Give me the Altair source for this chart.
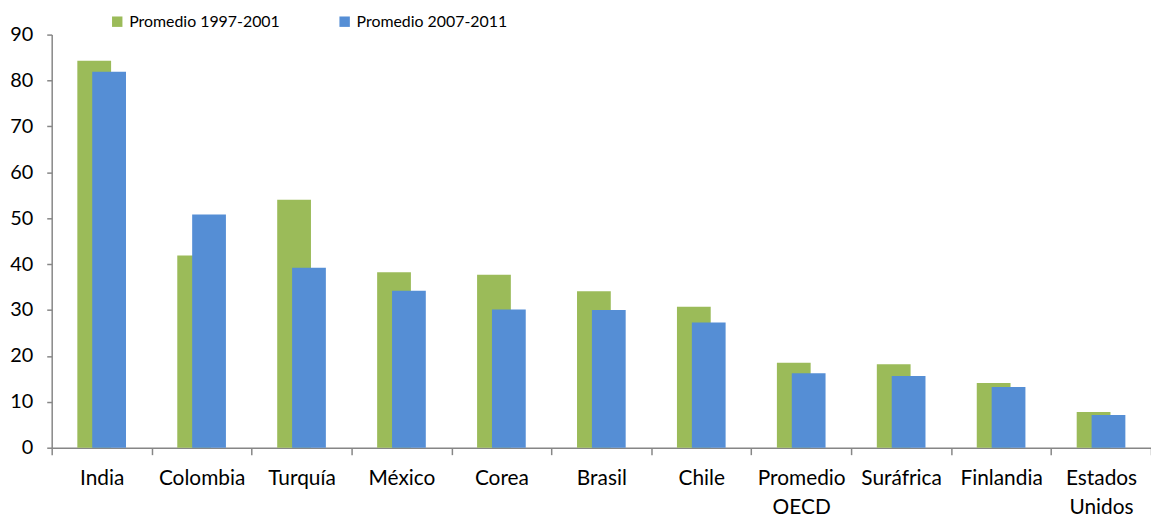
import altair as alt
import pandas as pd

categories = ["India", "Colombia", "Turquía", "México", "Corea", "Brasil", "Chile",
              "Promedio OECD", "Suráfrica", "Finlandia", "Estados Unidos"]
series_names = ["Promedio 1997-2001", "Promedio 2007-2011"]
prom_1997_2001 = [84.3, 41.9, 54.0, 38.2, 37.7, 34.1, 30.7, 18.5, 18.2, 14.1, 7.8]
prom_2007_2011 = [81.9, 50.8, 39.2, 34.2, 30.1, 30.0, 27.3, 16.2, 15.6, 13.2, 7.1]
y_ticks = [0, 10, 20, 30, 40, 50, 60, 70, 80, 90]

rows = []
for c, a, b in zip(categories, prom_1997_2001, prom_2007_2011):
    rows.append({"pais": c, "serie": series_names[0], "valor": a})
    rows.append({"pais": c, "serie": series_names[1], "valor": b})
df = pd.DataFrame(rows)

FONT = "Lato"
GRAY = "#868686"

x_enc = alt.X("pais:N", sort=categories, title=None,
              scale=alt.Scale(paddingInner=0, paddingOuter=0),
              axis=alt.Axis(labelAngle=0, tickBand="extent", tickSize=7, tickColor=GRAY,
                            domainColor=GRAY, domainWidth=1.5, tickWidth=1.5,
                            labelFont=FONT, labelFontSize=21, labelColor="#000000",
                            labelPadding=13, labelLineHeight=29, labelLimit=200,
                            labelExpr="split(datum.label, ' ')"))
y_enc = alt.Y("valor:Q", title=None,
              scale=alt.Scale(domain=[0, 90], nice=False),
              axis=alt.Axis(values=y_ticks, grid=False, tickSize=5, tickColor=GRAY,
                            domainColor=GRAY, domainWidth=1.5, tickWidth=1.5,
                            labelFont=FONT, labelFontSize=20, labelColor="#000000",
                            labelPadding=14))
color_enc = alt.Color("serie:N", title=None,
                      scale=alt.Scale(domain=series_names, range=["#9BBB59", "#558ED5"]),
                      legend=alt.Legend(orient="none", legendX=58, legendY=-21,
                                        direction="horizontal", symbolType="square",
                                        symbolSize=110, symbolStrokeWidth=0,
                                        labelFont=FONT, labelFontSize=16, labelLimit=300,
                                        labelColor="#000000", labelOffset=4,
                                        columnPadding=57))

base = alt.Chart(df)
green = base.transform_filter(alt.datum.serie == series_names[0]).mark_bar(
    width=34, xOffset=-7.5).encode(x=x_enc, y=y_enc, color=color_enc)
blue = base.transform_filter(alt.datum.serie == series_names[1]).mark_bar(
    width=34, xOffset=7.5).encode(x=x_enc, y=y_enc, color=color_enc)

chart = alt.layer(green, blue).properties(
    width=1107, height=416,
    background="white",
    autosize=alt.AutoSizeParams(type="none"),
    padding={"left": 44, "top": 25, "right": 0, "bottom": 70},
).configure_view(stroke=None)

chart.save("out.html", embed_options={"renderer": "svg", "actions": False})
